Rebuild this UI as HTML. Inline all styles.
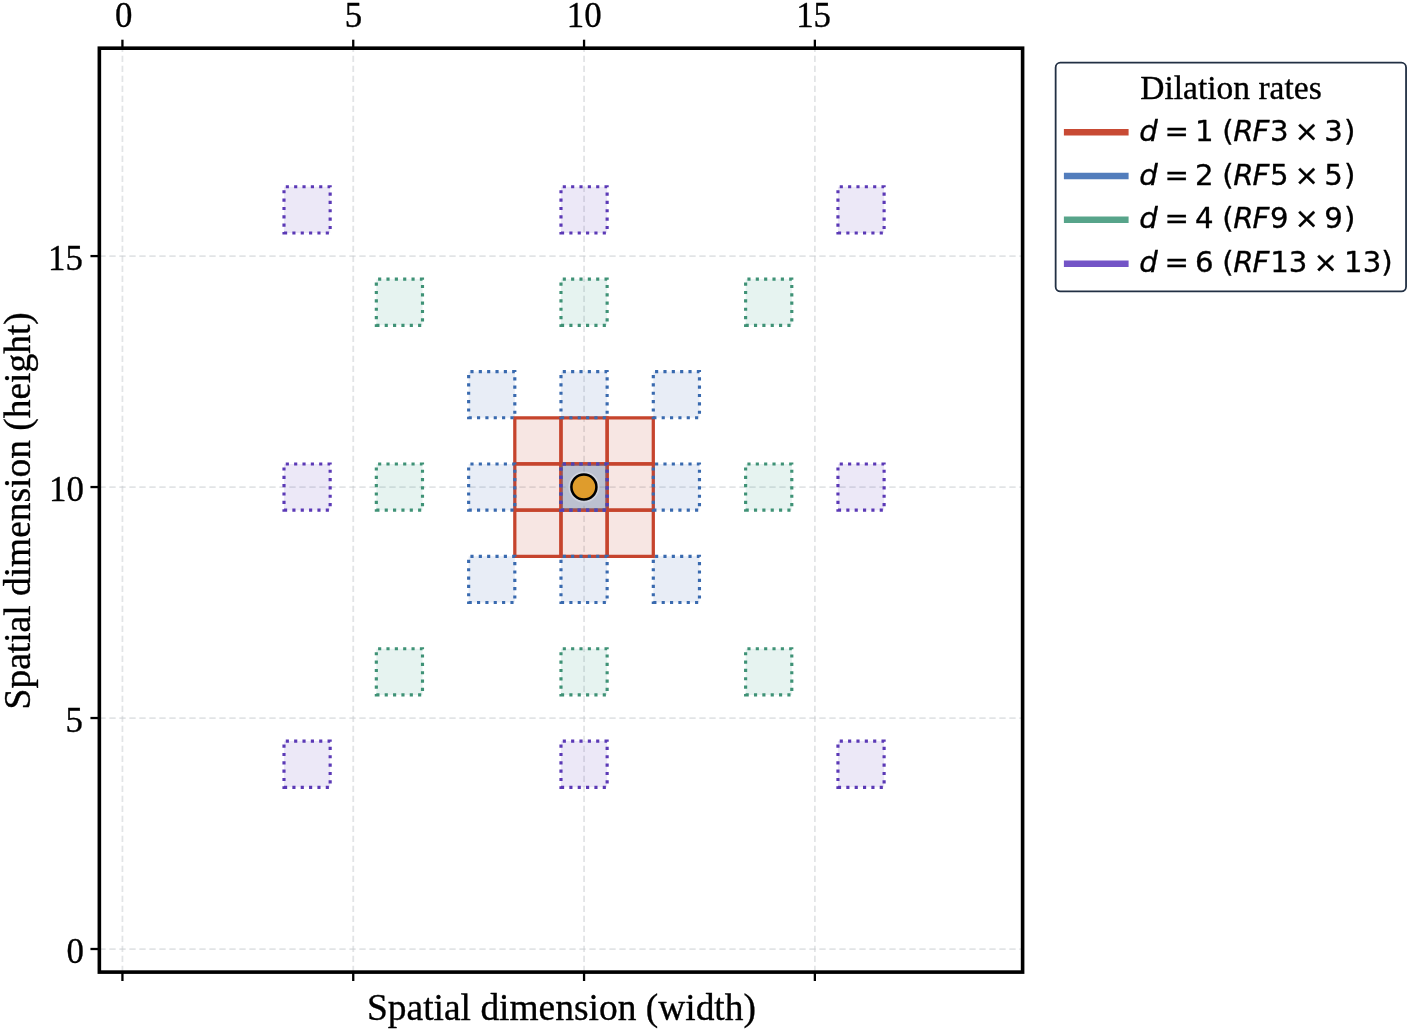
<!DOCTYPE html>
<html lang="en">
<head>
<meta charset="utf-8">
<title>Dilation rates</title>
<style>
html,body{margin:0;padding:0;background:#fff;}
body{width:1410px;height:1030px;overflow:hidden;}
svg{display:block;will-change:transform;}
.serif{font-family:"Liberation Serif","Times New Roman",serif;fill:#000;stroke:#000;stroke-width:0.35px;stroke-linejoin:round;}
.sans{font-family:"DejaVu Sans","Liberation Sans",sans-serif;fill:#000;stroke:#000;stroke-width:0.35px;stroke-linejoin:round;}
.it{font-style:italic;}
</style>
</head>
<body>
<svg width="1410" height="1030" viewBox="0 0 1410 1030">
<rect x="0" y="0" width="1410" height="1030" fill="#ffffff"/>
<g stroke="#c6c9cd" stroke-opacity="0.5" stroke-width="1.75" stroke-dasharray="6.3 3.7" fill="none">
<line x1="122.43" y1="972.1" x2="122.43" y2="48.2"/>
<line x1="353.24" y1="972.1" x2="353.24" y2="48.2"/>
<line x1="584.06" y1="972.1" x2="584.06" y2="48.2"/>
<line x1="814.87" y1="972.1" x2="814.87" y2="48.2"/>
<line x1="99.35" y1="949" x2="1022.6" y2="949"/>
<line x1="99.35" y1="718.03" x2="1022.6" y2="718.03"/>
<line x1="99.35" y1="487.05" x2="1022.6" y2="487.05"/>
<line x1="99.35" y1="256.08" x2="1022.6" y2="256.08"/>
</g>
<g fill="#c6442d" fill-opacity="0.135" stroke="#c6442d" stroke-width="3.25" stroke-linejoin="miter">
<path d="M514.81 556.35L560.98 556.35L560.98 510.15L514.81 510.15Z"/>
<path d="M560.98 556.35L607.14 556.35L607.14 510.15L560.98 510.15Z"/>
<path d="M607.14 556.35L653.3 556.35L653.3 510.15L607.14 510.15Z"/>
<path d="M514.81 510.15L560.98 510.15L560.98 463.96L514.81 463.96Z"/>
<path d="M560.98 510.15L607.14 510.15L607.14 463.96L560.98 463.96Z"/>
<path d="M607.14 510.15L653.3 510.15L653.3 463.96L607.14 463.96Z"/>
<path d="M514.81 463.96L560.98 463.96L560.98 417.76L514.81 417.76Z"/>
<path d="M560.98 463.96L607.14 463.96L607.14 417.76L560.98 417.76Z"/>
<path d="M607.14 463.96L653.3 463.96L653.3 417.76L607.14 417.76Z"/>
</g>
<g fill="#3f6fb5" fill-opacity="0.12" stroke="#396aaf" stroke-width="3.15" stroke-dasharray="3.15 5.2" stroke-linejoin="miter">
<path d="M468.65 602.54L514.81 602.54L514.81 556.35L468.65 556.35Z"/>
<path d="M560.98 602.54L607.14 602.54L607.14 556.35L560.98 556.35Z"/>
<path d="M653.3 602.54L699.46 602.54L699.46 556.35L653.3 556.35Z"/>
<path d="M468.65 510.15L514.81 510.15L514.81 463.96L468.65 463.96Z"/>
<path d="M560.98 510.15L607.14 510.15L607.14 463.96L560.98 463.96Z"/>
<path d="M653.3 510.15L699.46 510.15L699.46 463.96L653.3 463.96Z"/>
<path d="M468.65 417.76L514.81 417.76L514.81 371.57L468.65 371.57Z"/>
<path d="M560.98 417.76L607.14 417.76L607.14 371.57L560.98 371.57Z"/>
<path d="M653.3 417.76L699.46 417.76L699.46 371.57L653.3 371.57Z"/>
</g>
<g fill="#2f9a80" fill-opacity="0.12" stroke="#3f9276" stroke-width="3.15" stroke-dasharray="3.15 5.2" stroke-linejoin="miter">
<path d="M376.33 694.93L422.49 694.93L422.49 648.74L376.33 648.74Z"/>
<path d="M560.98 694.93L607.14 694.93L607.14 648.74L560.98 648.74Z"/>
<path d="M745.62 694.93L791.79 694.93L791.79 648.74L745.62 648.74Z"/>
<path d="M376.33 510.15L422.49 510.15L422.49 463.96L376.33 463.96Z"/>
<path d="M560.98 510.15L607.14 510.15L607.14 463.96L560.98 463.96Z"/>
<path d="M745.62 510.15L791.79 510.15L791.79 463.96L745.62 463.96Z"/>
<path d="M376.33 325.37L422.49 325.37L422.49 279.18L376.33 279.18Z"/>
<path d="M560.98 325.37L607.14 325.37L607.14 279.18L560.98 279.18Z"/>
<path d="M745.62 325.37L791.79 325.37L791.79 279.18L745.62 279.18Z"/>
</g>
<g fill="#6441c0" fill-opacity="0.12" stroke="#5b39b6" stroke-width="3.15" stroke-dasharray="3.15 5.2" stroke-linejoin="miter">
<path d="M284 787.32L330.16 787.32L330.16 741.12L284 741.12Z"/>
<path d="M560.98 787.32L607.14 787.32L607.14 741.12L560.98 741.12Z"/>
<path d="M837.95 787.32L884.11 787.32L884.11 741.12L837.95 741.12Z"/>
<path d="M284 510.15L330.16 510.15L330.16 463.96L284 463.96Z"/>
<path d="M560.98 510.15L607.14 510.15L607.14 463.96L560.98 463.96Z"/>
<path d="M837.95 510.15L884.11 510.15L884.11 463.96L837.95 463.96Z"/>
<path d="M284 232.98L330.16 232.98L330.16 186.78L284 186.78Z"/>
<path d="M560.98 232.98L607.14 232.98L607.14 186.78L560.98 186.78Z"/>
<path d="M837.95 232.98L884.11 232.98L884.11 186.78L837.95 186.78Z"/>
</g>
<rect x="562.58" y="465.56" width="42.96" height="42.99" fill="#a0f5e6" fill-opacity="0.08"/>
<circle cx="583.91" cy="487.05" r="14.75" fill="none" stroke="#ffffff" stroke-opacity="0.3" stroke-width="1.5"/>
<circle cx="583.91" cy="487.05" r="12.5" fill="#df9c2c" stroke="#000" stroke-width="2.5"/>
<rect x="99.35" y="48.2" width="923.25" height="923.9" fill="none" stroke="#000" stroke-width="3.6"/>
<g stroke="#000" stroke-width="2.3">
<line x1="122.43" y1="48.2" x2="122.43" y2="39.7"/>
<line x1="122.43" y1="972.1" x2="122.43" y2="981"/>
<line x1="99.35" y1="949" x2="90.45" y2="949"/>
<line x1="353.24" y1="48.2" x2="353.24" y2="39.7"/>
<line x1="353.24" y1="972.1" x2="353.24" y2="981"/>
<line x1="99.35" y1="718.03" x2="90.45" y2="718.03"/>
<line x1="584.06" y1="48.2" x2="584.06" y2="39.7"/>
<line x1="584.06" y1="972.1" x2="584.06" y2="981"/>
<line x1="99.35" y1="487.05" x2="90.45" y2="487.05"/>
<line x1="814.87" y1="48.2" x2="814.87" y2="39.7"/>
<line x1="814.87" y1="972.1" x2="814.87" y2="981"/>
<line x1="99.35" y1="256.08" x2="90.45" y2="256.08"/>
</g>
<g class="serif" font-size="34.8">
<text x="123.73" y="26.6" text-anchor="middle">0</text>
<text x="353.34" y="26.6" text-anchor="middle">5</text>
<text x="584.26" y="26.6" text-anchor="middle">10</text>
<text x="813.57" y="26.6" text-anchor="middle">15</text>
<text x="83.8" y="962.5" text-anchor="end">0</text>
<text x="82.8" y="731.53" text-anchor="end">5</text>
<text x="83.8" y="500.55" text-anchor="end">10</text>
<text x="82.9" y="269.58" text-anchor="end">15</text>
</g>
<text class="serif" font-size="37.45" x="561.5" y="1019.8" text-anchor="middle">Spatial dimension (width)</text>
<text class="serif" font-size="37.45" text-anchor="middle" transform="translate(30 510.8) rotate(-90)">Spatial dimension (height)</text>
<rect x="1055.64" y="62.72" width="350.42" height="228.75" rx="4.7" ry="4.7" fill="#ffffff" stroke="#223044" stroke-width="1.8"/>
<text class="serif" font-size="33.5" x="1140.3" y="98.6">Dilation rates</text>
<line x1="1063.9" y1="132.3" x2="1128.6" y2="132.3" stroke="#c6442d" stroke-width="6.5" stroke-opacity="0.97"/>
<text class="sans" font-size="29.2" y="140.8"><tspan class="it" x="1139.2">d</tspan><tspan x="1164.4">=</tspan><tspan x="1194.9">1</tspan><tspan x="1222.3">(</tspan><tspan class="it" x="1233.2">R</tspan><tspan class="it" x="1252.4">F</tspan><tspan x="1269.9">3</tspan><tspan x="1294.4">×</tspan><tspan x="1324.2">3</tspan><tspan x="1344">)</tspan></text>
<line x1="1063.9" y1="176.1" x2="1128.6" y2="176.1" stroke="#3f6fb5" stroke-width="6.5" stroke-opacity="0.9"/>
<text class="sans" font-size="29.2" y="184.6"><tspan class="it" x="1139.2">d</tspan><tspan x="1164.4">=</tspan><tspan x="1194.9">2</tspan><tspan x="1222.3">(</tspan><tspan class="it" x="1233.2">R</tspan><tspan class="it" x="1252.4">F</tspan><tspan x="1269.9">5</tspan><tspan x="1294.4">×</tspan><tspan x="1324.2">5</tspan><tspan x="1344">)</tspan></text>
<line x1="1063.9" y1="219.8" x2="1128.6" y2="219.8" stroke="#459a7d" stroke-width="6.5" stroke-opacity="0.9"/>
<text class="sans" font-size="29.2" y="228.2"><tspan class="it" x="1139.2">d</tspan><tspan x="1164.4">=</tspan><tspan x="1194.9">4</tspan><tspan x="1222.3">(</tspan><tspan class="it" x="1233.2">R</tspan><tspan class="it" x="1252.4">F</tspan><tspan x="1269.9">9</tspan><tspan x="1294.4">×</tspan><tspan x="1324.2">9</tspan><tspan x="1344">)</tspan></text>
<line x1="1063.9" y1="263.7" x2="1128.6" y2="263.7" stroke="#6441c0" stroke-width="6.5" stroke-opacity="0.9"/>
<text class="sans" font-size="29.2" y="272"><tspan class="it" x="1139.2">d</tspan><tspan x="1164.4">=</tspan><tspan x="1194.9">6</tspan><tspan x="1222.3">(</tspan><tspan class="it" x="1233.2">R</tspan><tspan class="it" x="1252.4">F</tspan><tspan x="1270.2">13</tspan><tspan x="1313.6">×</tspan><tspan x="1344.1">13</tspan><tspan x="1381.2">)</tspan></text>
</svg>
</body>
</html>
